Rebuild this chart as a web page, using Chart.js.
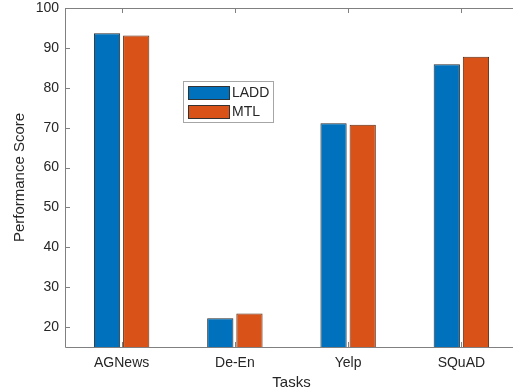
<!DOCTYPE html>
<html>
<head>
<meta charset="utf-8">
<script src="https://cdn.jsdelivr.net/npm/chart.js@4"></script>
<style>
  html, body { margin: 0; padding: 0; background: #fff; overflow: hidden; }
  #wrap { width: 513px; height: 392px; overflow: hidden; }
</style>
</head>
<body>
<div id="wrap"><canvas id="graph-area" width="523" height="392"></canvas></div>
<script>
// data
var tasks = ["AGNews", "De-En", "Yelp", "SQuAD"];
var laddScores = [93.7, 22.2, 71.1, 85.9];
var mtlScores = [93.1, 23.4, 70.7, 87.8];
var yTicks = [20, 30, 40, 50, 60, 70, 80, 90, 100];

var axisGray = "#808080";
var textColor = "#262626";

// box, inward ticks and the legend, MATLAB style
var matlabAxes = {
  id: "matlabAxes",
  afterDatasetsDraw: function (chart) {
    var ctx = chart.ctx;
    var a = chart.chartArea;
    var xs = chart.scales.x, ys = chart.scales.y;
    var tl = 5;
    ctx.save();
    ctx.strokeStyle = axisGray;
    ctx.lineWidth = 1;
    ctx.beginPath();
    ctx.rect(Math.round(a.left) + 0.5, Math.round(a.top) + 0.5,
             Math.round(a.right - a.left), Math.round(a.bottom - a.top));
    ctx.stroke();
    ctx.beginPath();
    xs.ticks.forEach(function (t, i) {
      var px = Math.round(xs.getPixelForTick(i)) + 0.5;
      ctx.moveTo(px, a.bottom); ctx.lineTo(px, a.bottom - tl);
      ctx.moveTo(px, a.top); ctx.lineTo(px, a.top + tl);
    });
    ys.ticks.forEach(function (t, i) {
      var py = Math.round(ys.getPixelForTick(i)) + 0.5;
      ctx.moveTo(a.left, py); ctx.lineTo(a.left + tl, py);
      ctx.moveTo(a.right, py); ctx.lineTo(a.right - tl, py);
    });
    ctx.stroke();

    // legend
    var lx = a.left + 118, ly = a.top + 73;
    ctx.fillStyle = "#fff";
    ctx.fillRect(lx, ly, 90, 41);
    ctx.strokeStyle = "#a6a6a6";
    ctx.strokeRect(lx + 0.5, ly + 0.5, 90, 41);
    ctx.font = "14px 'Liberation Sans', Arial, sans-serif";
    ctx.textBaseline = "middle";
    chart.data.datasets.forEach(function (ds, i) {
      var sy = ly + 5 + i * 19;
      ctx.fillStyle = ds.backgroundColor;
      ctx.fillRect(lx + 5, sy, 41, 13);
      ctx.strokeStyle = "#333";
      ctx.strokeRect(lx + 5.5, sy + 0.5, 41, 13);
      ctx.fillStyle = textColor;
      ctx.fillText(ds.label, lx + 49, sy + 7);
    });
    ctx.restore();
  }
};

var canvas = document.getElementById("graph-area");
var chart = new Chart(canvas, {
  type: "bar",
  data: {
    labels: tasks,
    datasets: [
      { label: "LADD", data: laddScores, backgroundColor: "#0072BD", borderColor: "#2b2b2b", borderWidth: 1 },
      { label: "MTL", data: mtlScores, backgroundColor: "#D95319", borderColor: "#5a2a10", borderWidth: 1 }
    ]
  },
  options: {
    responsive: false,
    animation: false,
    layout: { padding: { top: 8, right: 5, left: 0, bottom: 0 } },
    datasets: { bar: { categoryPercentage: 0.515, barPercentage: 0.9 } },
    plugins: { legend: { display: false }, tooltip: { enabled: false } },
    scales: {
      x: {
        grid: { display: false, drawTicks: false },
        border: { display: false },
        ticks: { color: textColor, padding: 8, font: { size: 14, family: "'Liberation Sans', Arial, sans-serif" } },
        title: { display: true, text: "Tasks", color: textColor, padding: { top: 0, bottom: 0 },
                 font: { size: 15, family: "'Liberation Sans', Arial, sans-serif" } },
        afterFit: function (s) { s.height = 45; s.paddingLeft = 0; s.paddingRight = 0; }
      },
      y: {
        min: 15,
        max: 100,
        grid: { display: false, drawTicks: false },
        border: { display: false },
        afterBuildTicks: function (s) { s.ticks = yTicks.map(function (v) { return { value: v }; }); },
        ticks: { color: textColor, padding: 6, font: { size: 14, family: "'Liberation Sans', Arial, sans-serif" } },
        title: { display: true, text: "Performance Score", color: textColor, padding: { top: 11, bottom: 0 },
                 font: { size: 15, family: "'Liberation Sans', Arial, sans-serif" } },
        afterFit: function (s) { s.width = 65; s.paddingTop = 0; s.paddingBottom = 0; }
      }
    }
  },
  plugins: [matlabAxes]
});
</script>
</body>
</html>
